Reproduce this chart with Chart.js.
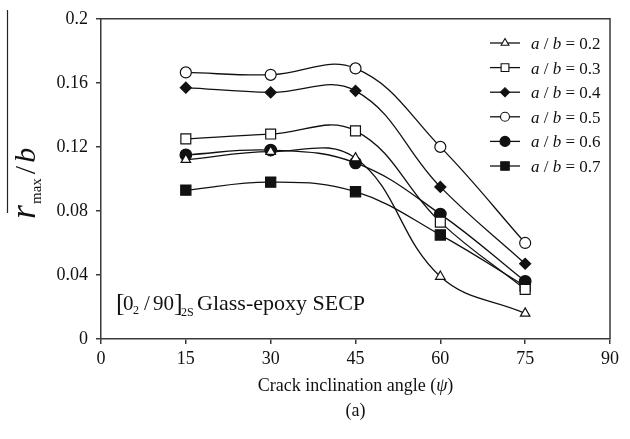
<!DOCTYPE html>
<html>
<head>
<meta charset="utf-8">
<script src="https://cdn.jsdelivr.net/npm/chart.js@4/dist/chart.umd.min.js"></script>
<style>
  html, body { margin: 0; padding: 0; background: #fff; }
  #wrap { width: 630px; height: 439px; }
</style>
</head>
<body>
<div id="wrap"><canvas id="c" width="630" height="439"></canvas></div>
<script>
// Crack inclination angles (degrees)
const angles = [15, 30, 45, 60, 75];

// Normalised maximum radius r_max / b for each crack length ratio a / b
const ratios = ['0.2', '0.3', '0.4', '0.5', '0.6', '0.7'];
const ab02 = [0.112, 0.117, 0.113, 0.039, 0.016];
const ab03 = [0.125, 0.128, 0.130, 0.073, 0.031];
const ab04 = [0.157, 0.154, 0.155, 0.095, 0.047];
const ab05 = [0.1665, 0.165, 0.169, 0.120, 0.060];
const ab06 = [0.115, 0.118, 0.110, 0.078, 0.036];
const ab07 = [0.093, 0.098, 0.092, 0.065, 0.033];

// Axis tick labels
const xTicks = [0, 15, 30, 45, 60, 75, 90];
const yTicks = ['0', '0.04', '0.08', '0.12', '0.16', '0.2'];

const SERIF = '"Liberation Serif", "DejaVu Serif", serif';
const INK = '#111';
const AXIS = '#3a3a3a';

const seriesValues = [ab02, ab03, ab04, ab05, ab06, ab07];
// marker style per series: [pointStyle, filled, radius, legend radius]
const markers = [
  ['triangle', false, 5.5, 4.5],
  ['rect', false, 7, 5.5],
  ['rectRot', true, 5.5, 4.5],
  ['circle', false, 5.5, 4.5],
  ['circle', true, 5.8, 5],
  ['rect', true, 7.2, 6]
];

const datasets = seriesValues.map((vals, i) => ({
  label: 'a / b = ' + ratios[i],
  data: vals.map((v, k) => ({ x: angles[k], y: v })),
  borderColor: INK,
  borderWidth: 1.3,
  backgroundColor: markers[i][1] ? INK : '#fff',
  pointStyle: markers[i][0],
  pointRadius: markers[i][2],
  pointBorderWidth: 1.2,
  pointBorderColor: INK,
  pointBackgroundColor: markers[i][1] ? INK : '#fff',
  tension: 0.4,
  fill: false
}));

// Frame around the plotting area, titles, legend and annotation
const decorations = {
  id: 'decorations',
  beforeDatasetsDraw(chart) {
    const { ctx, chartArea: a } = chart;
    ctx.save();
    ctx.strokeStyle = AXIS;
    ctx.lineWidth = 1.5;
    ctx.beginPath();
    ctx.moveTo(a.left, a.top);
    ctx.lineTo(a.right, a.top);
    ctx.lineTo(a.right, a.bottom);
    ctx.stroke();
    ctx.restore();
  },
  afterDraw(chart) {
    const { ctx, chartArea: a } = chart;
    ctx.save();
    ctx.fillStyle = INK;
    ctx.textBaseline = 'alphabetic';

    // x-axis title with italic psi
    const pieces = [
      ['Crack inclination angle (', '18px ' + SERIF],
      ['\u03C8', 'italic 18px ' + SERIF],
      [')', '18px ' + SERIF]
    ];
    let total = 0;
    pieces.forEach(p => { ctx.font = p[1]; total += ctx.measureText(p[0]).width; });
    let x = (a.left + a.right) / 2 - total / 2;
    pieces.forEach(p => { ctx.font = p[1]; ctx.fillText(p[0], x, 391); x += ctx.measureText(p[0]).width; });

    ctx.font = '18px ' + SERIF;
    ctx.textAlign = 'center';
    ctx.fillText('(a)', (a.left + a.right) / 2, 416);
    ctx.textAlign = 'left';

    // y-axis title: overlined r_max / b, rotated
    ctx.save();
    ctx.translate(35, 219);
    ctx.rotate(-Math.PI / 2);
    let yx = 0;
    ctx.font = 'italic 36px ' + SERIF;
    ctx.fillText('r', yx, 0); yx += ctx.measureText('r').width + 1;
    ctx.font = '15px ' + SERIF;
    ctx.fillText('max', yx, 6); yx += ctx.measureText('max').width + 4;
    ctx.font = '30px ' + SERIF;
    ctx.fillText('/', yx, 0); yx += ctx.measureText('/').width + 3;
    ctx.font = 'italic 30px ' + SERIF;
    ctx.fillText('b', yx, 0);
    ctx.restore();
    ctx.strokeStyle = '#222';
    ctx.lineWidth = 1.2;
    ctx.beginPath();
    ctx.moveTo(7.5, 10);
    ctx.lineTo(7.5, 213);
    ctx.stroke();

    // laminate annotation [0_2 / 90]_2S Glass-epoxy SECP
    const ay = 310;
    ctx.font = '26px ' + SERIF;
    ctx.fillText('[', 116, ay + 1);
    ctx.font = '21px ' + SERIF;
    ctx.fillText('0', 123, ay);
    ctx.font = '12px ' + SERIF;
    ctx.fillText('2', 133, ay + 4);
    ctx.font = '21px ' + SERIF;
    ctx.fillText('/', 144, ay);
    ctx.fillText('90', 153, ay);
    ctx.font = '26px ' + SERIF;
    ctx.fillText(']', 174, ay + 1);
    ctx.font = '12px ' + SERIF;
    ctx.fillText('2S', 181, ay + 6);
    ctx.font = '22px ' + SERIF;
    ctx.fillText('Glass-epoxy SECP', 197, ay);

    // legend
    const lx0 = 490, lx1 = 520, tx = 531;
    chart.data.datasets.forEach((ds, i) => {
      const ly = 43 + i * 24.6;
      ctx.strokeStyle = INK;
      ctx.lineWidth = 1.3;
      ctx.beginPath();
      ctx.moveTo(lx0, ly);
      ctx.lineTo(lx1, ly);
      ctx.stroke();
      ctx.fillStyle = markers[i][1] ? INK : '#fff';
      ctx.strokeStyle = INK;
      ctx.lineWidth = 1.1;
      Chart.helpers.drawPoint(ctx, {
        pointStyle: markers[i][0],
        radius: markers[i][3],
        rotation: 0,
        borderWidth: 1.1
      }, (lx0 + lx1) / 2, ly);

      ctx.fillStyle = INK;
      let px = tx;
      const by = ly + 6;
      const parts = [
        ['a', 'italic 17px ' + SERIF],
        [' / ', '17px ' + SERIF],
        ['b', 'italic 17px ' + SERIF],
        [' = ' + ratios[i], '17px ' + SERIF]
      ];
      parts.forEach(p => { ctx.font = p[1]; ctx.fillText(p[0], px, by); px += ctx.measureText(p[0]).width; });
    });
    ctx.restore();
  }
};

new Chart(document.getElementById('c'), {
  type: 'line',
  data: { datasets },
  options: {
    responsive: false,
    animation: false,
    devicePixelRatio: 1,
    layout: { padding: { left: 0, top: 16, right: 20, bottom: 0 } },
    plugins: { legend: { display: false }, tooltip: { enabled: false } },
    scales: {
      x: {
        type: 'linear',
        min: 0, max: 90,
        afterBuildTicks(scale) { scale.ticks = xTicks.map(v => ({ value: v })); },
        afterFit(scale) { scale.height = 100; },
        grid: { display: true, drawOnChartArea: false, drawTicks: true, tickLength: 5, color: AXIS, lineWidth: 1.5 },
        border: { display: true, color: AXIS, width: 1.5 },
        ticks: { color: INK, font: { family: SERIF, size: 18 }, padding: 4, maxRotation: 0 }
      },
      y: {
        type: 'linear',
        min: 0, max: 0.2,
        afterBuildTicks(scale) { scale.ticks = yTicks.map(v => ({ value: parseFloat(v) })); },
        afterFit(scale) { scale.width = 101; },
        grid: { display: true, drawOnChartArea: false, drawTicks: true, tickLength: 5, color: AXIS, lineWidth: 1.5 },
        border: { display: true, color: AXIS, width: 1.5 },
        ticks: {
          color: INK, font: { family: SERIF, size: 18 }, padding: 8,
          callback: (v, idx) => yTicks[idx]
        }
      }
    }
  },
  plugins: [decorations]
});
</script>
</body>
</html>
